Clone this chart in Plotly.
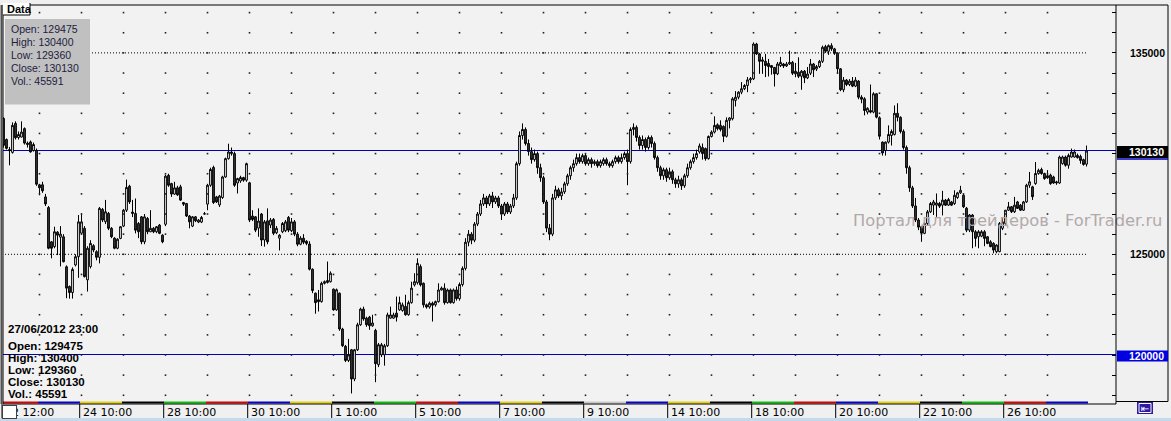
import plotly.graph_objects as go

# ---------------- data (hourly candles, 22 May 2012 12:00 .. 27 Jun 2012 23:00) ----------------
open_ = [
    131750,130700,130200,130060,131500,130800,130820,131240,130520,130580,130150,130160,
    128450,128450,127850,127320,125620,125380,126100,125850,125870,124380,123400,123100,124470,124880,
    126050,126290,123730,124390,125430,125130,124850,127230,126620,127030,126290,125800,125300,125790,
    126400,127190,128380,127100,127030,126530,126860,125620,126780,126120,126290,126120,126450,125950,
    126490,128920,128510,127990,128300,128350,127570,127520,126900,126400,126860,126600,126600,127000,
    127490,128430,129310,127850,127450,127820,128840,129750,130000,130000,128540,128640,128810,128680,
    128550,126900,126860,126300,127000,125710,126660,126450,126730,126070,125800,126120,126170,126830,
    126170,126610,126000,125500,125800,125650,125510,124260,123070,122740,122650,123560,123600,123640,
    123270,122240,123070,121290,120430,119730,120260,118810,120260,121500,122280,121830,121880,121450,
    121220,119520,120010,120010,120460,121830,121830,122080,122240,122210,122410,122000,122600,123480,
    123590,124390,123560,122490,122380,122570,122490,122650,123230,123320,122600,123230,122600,123230,
    122800,123500,124300,125600,126000,125700,126500,127000,127500,127800,127500,127900,127600,127800,
    127400,127000,127500,127100,127400,127800,129500,130900,131200,130500,130100,129700,130000,129300,
    128800,127600,126300,126000,127800,128200,127900,128100,128500,128900,129300,129500,129800,129600,
    129900,129500,129700,129500,129600,129400,129500,129700,129500,129400,129600,129800,129600,129800,
    130000,129600,131200,131300,130800,130400,130700,130300,130800,130500,129800,129300,128900,129200,
    128800,129100,128700,128500,128700,128400,128900,129300,129600,129800,130080,130300,130250,129750,
    130850,131070,131430,131400,131350,130860,131650,131730,132640,132800,133050,133220,133380,133660,
    133710,135440,134950,134580,134580,134480,134370,134280,133960,134370,134450,134350,134450,134530,
    134090,134040,133840,134090,133760,133990,134450,134200,134320,134580,135310,135080,135360,135200,
    134980,134210,133170,133650,133430,133600,133350,133600,132800,132720,132060,132140,132060,132970,
    131780,130570,130150,130570,130900,130950,132000,131800,131100,130300,129300,128300,127400,126700,
    126370,126040,126530,127110,127440,127440,127520,127440,127690,127440,127600,127520,127820,128050,
    127930,127290,126200,126950,126120,125870,125900,126120,125870,125620,125540,125130,125130,126290,
    126530,127190,127360,127110,127600,127440,127190,127600,128430,128350,128510,129010,129210,129010,
    128900,128930,128840,128540,128540,129500,129830,129420,129830,129830,129910,129860,129700,129475,
]
high_ = [
    131800,130750,130330,131550,131600,131100,131600,131300,130600,130650,130550,130250,
    128500,128600,128000,127400,125650,126370,126150,126400,126000,124450,123450,124350,125000,126950,
    127030,126400,125400,125700,125500,125200,127350,127300,127700,127100,126350,125850,125800,126400,
    127250,128710,128450,127700,127770,126600,126900,127000,126850,127190,126350,126400,126500,126000,
    128950,129000,128550,128600,128400,128450,127600,127550,126950,126900,126900,126750,126900,127100,
    128500,129300,129400,127900,127950,128900,129800,130490,130300,130100,128800,128900,128850,129550,
    128600,127190,126900,127280,127050,126700,127280,126800,126800,126400,126000,126600,126700,126900,
    126800,126700,126100,125900,126000,125700,125650,124300,123100,123230,123640,123700,124640,124150,
    123300,123300,123100,121350,120500,120800,120300,120300,121600,122350,122400,121900,121940,122000,
    121300,120600,120600,120550,122100,122400,122100,122900,122900,122600,122990,122700,123640,124060,
    124800,124500,123600,122550,122650,122650,122700,123560,123400,123560,123300,123300,123300,123400,
    123600,124400,125800,126200,126100,126600,127100,127700,128000,127900,128000,128100,127900,127900,
    127500,127600,127600,127500,128000,129600,131100,131500,131300,130700,130300,130200,130100,129500,
    128900,127700,126500,128000,128400,128300,128300,128600,129000,129400,129700,130000,130000,130000,
    130000,129800,129800,129700,129700,129700,129800,129800,129600,129700,129900,129900,130000,130100,
    130200,131300,131500,131400,130900,130900,130800,130900,130900,130600,129900,129400,129300,129300,
    129300,129200,128800,128900,128800,129000,129500,129700,130000,130200,130500,130500,130300,130900,
    131150,131850,131500,131650,131400,131800,131800,132800,133100,133100,133550,133450,133800,133800,
    135520,135500,135000,134800,134950,134700,134400,134300,134550,134800,134500,134550,135110,134600,
    134500,134780,134150,134150,134300,134700,134500,134400,134650,135360,135400,135420,135480,135250,
    135000,134250,133800,133700,133700,133800,133800,133650,132900,132800,132300,133430,133050,133000,
    131850,130600,130600,131400,131200,132390,132500,131850,131200,130400,129400,128400,127800,126800,
    126400,126600,127200,127600,127700,128020,127600,128150,127750,127800,127650,128180,128100,128400,
    128000,127350,127000,127000,126200,126200,126200,126200,125900,125700,125600,125500,126600,126800,
    127200,127600,127400,127850,127650,127500,127650,128500,129090,128400,129580,129250,129300,129050,
    129180,129000,128900,128650,129900,129900,129900,130000,130250,130200,130000,129950,129750,130400,
]
low_ = [
    130300,130200,129420,130000,130700,130700,130800,130450,130300,130050,130100,128400,
    127930,128050,127400,125250,124800,125300,124960,124400,124600,122820,122800,122800,124400,123830,
    126000,123850,123150,124300,125100,124700,124550,126600,126500,126200,125800,125250,125250,125750,
    126350,127100,127500,126850,126040,125800,125500,125500,126000,126100,126050,126050,126000,125550,
    126400,128350,127850,127950,127900,127650,127400,126850,126290,126350,126600,126550,126550,126980,
    127190,128350,127500,127550,127350,127750,128800,129700,129900,128350,128020,128550,128600,128600,
    126600,126650,126100,125870,125410,125380,125500,126300,125950,126000,125190,126050,126100,126100,
    126100,125900,125400,125450,125500,125450,124200,123070,122050,122160,122600,123500,123550,123600,
    122200,122200,121200,120400,119650,119650,118090,118700,120200,121450,121700,121400,121250,121400,
    118650,119400,119900,119470,120400,121800,121800,121660,122200,122150,121950,121950,122550,123400,
    123500,123400,122350,122300,122300,121660,122400,122600,123200,122500,122550,122550,122550,122700,
    122700,123400,124200,125400,125500,125600,126400,126900,127400,127300,127400,127300,127500,127300,
    126700,126900,127000,127000,127300,127700,129400,130700,130400,129900,129500,129600,129000,128600,
    127500,126100,125700,125900,127700,127800,127700,128000,128400,128700,129100,129400,129500,129500,
    129400,129400,129300,129400,129300,129300,129400,129400,129300,129300,129500,129500,129500,129700,
    128430,129500,130900,130600,130200,130200,130100,130200,130300,129700,129100,128700,128700,128600,
    128700,128500,128300,128300,128200,128300,128800,129200,129500,129700,130000,129700,129650,129700,
    130800,131000,131150,131100,130570,130800,131250,131650,132340,132700,132950,133150,133050,133500,
    133650,134900,133960,133960,133800,133830,133920,133330,133900,134300,134250,134300,134400,133900,
    133790,133750,133170,133500,133700,133900,133800,134100,134250,134500,135000,134900,135100,134900,
    133960,133100,133050,133350,133350,133300,133300,132700,132500,131900,131950,132000,132000,131750,
    130700,129900,129900,130500,130400,130900,131600,131000,130200,129000,128100,127300,126600,126200,
    125620,126000,126450,127050,126950,126860,127300,126930,127400,127400,127400,127450,127750,128000,
    127300,126100,126100,125300,125380,125300,125850,125400,125500,125350,125050,125050,125100,126200,
    126450,127150,127050,127050,127250,127150,127150,127550,128300,127700,128450,128950,128950,128700,
    128750,128450,128500,128450,128500,129450,129350,129250,129800,129800,129750,129500,129400,129360,
]
close_ = [
    130410,130260,130150,131400,130790,130950,131070,130520,130450,130080,130450,128480,
    128300,128150,127500,125300,125300,126120,125950,126000,124630,123320,123100,124250,124880,126610,
    126610,123890,125300,125540,125210,124850,127280,126700,127110,126290,125870,125300,125750,126370,
    127190,128320,127600,127030,126200,126120,125620,126860,126120,126290,126120,126370,126040,125620,
    128880,128430,127990,128300,127950,127690,127490,126900,126610,126860,126660,126700,126830,127010,
    128430,129210,127570,127600,127890,128840,129750,130080,130080,128430,128760,128810,128680,129500,
    126700,126730,126200,126650,125710,126610,125620,126700,126040,126290,125950,126530,126610,126200,
    126610,126000,125500,125800,125600,125540,124260,123200,122600,122650,123560,123640,123700,124060,
    122240,123240,121290,120460,119730,120010,118810,120260,121500,122280,121790,121500,121450,121590,
    119570,120510,120510,120460,121990,121990,121990,121880,122600,122490,122000,122600,123320,123640,
    124550,123480,122490,122380,122570,122470,122650,123230,123320,122600,123230,122600,123230,122800,
    123500,124300,125600,126000,125700,126500,127000,127500,127800,127500,127900,127600,127800,127400,
    127000,127500,127100,127400,127800,129500,130900,131200,130500,130100,129700,130000,129300,128800,
    127600,126300,126000,127800,128200,127900,128100,128500,128900,129300,129500,129800,129600,129900,
    129500,129700,129500,129600,129400,129600,129700,129500,129400,129600,129800,129600,129800,130000,
    129600,131200,131300,130800,130400,130700,130300,130800,130500,129800,129300,128900,129200,128800,
    129100,128700,128500,128700,128400,128900,129300,129600,129800,130000,130380,130000,129750,130850,
    131070,131400,131240,131200,130860,131650,131770,132720,132800,133050,133220,133380,133660,133720,
    135440,134950,134580,134650,134370,134320,134270,133960,134450,134530,134350,134450,134530,133990,
    133960,133840,134090,133760,133950,134450,134160,134320,134580,135280,135080,135360,135200,134980,
    134210,133170,133650,133430,133600,133350,133650,132800,132700,132140,132250,132060,132970,131810,
    130860,130030,130570,130950,131100,132000,131800,131100,130300,129300,128300,127400,126700,126350,
    126050,126530,127110,127520,127600,127550,127390,127690,127440,127720,127440,127930,128050,128180,
    127360,126200,126950,126120,125790,126120,126120,125790,125540,125380,125210,125460,126530,126610,
    127190,127360,127110,127440,127280,127190,127600,128430,128600,127860,129010,129170,129010,128760,
    128800,128510,128540,128590,129830,129830,129420,129910,130080,130080,129800,129660,129460,130130,
]

trading_days = ["22", "23", "24", "25", "28", "29", "30", "31", "1", "4", "5", "6", "7",
                "8", "9", "13", "14", "15", "18", "19", "20", "21", "22", "25", "26", "27"]
weekdays = ["Tue", "Wed", "Thu", "Fri", "Mon", "Tue", "Wed", "Thu", "Fri", "Mon", "Tue", "Wed", "Thu",
            "Fri", "Sat", "Wed", "Thu", "Fri", "Mon", "Tue", "Wed", "Thu", "Fri", "Mon", "Tue", "Wed"]
first_day_bars = 12      # 22 May: 12:00 .. 23:00
bars_per_day = 14        # 10:00 .. 23:00
tick_day_idx = [2, 4, 6, 8, 10, 12, 14, 16, 18, 20, 22, 24]
first_tick_text = "22 12:00"
price_ticks = list(range(118000, 137001, 1000))
labelled_prices = [125000, 135000]
dotted_prices = [125000, 135000]
last_price = 130130
level_price = 120000
info_date = "27/06/2012 23:00"
info_lines = ["Open: 129475", "High: 130400", "Low: 129360", "Close: 130130", "Vol.: 45591"]
watermark = "Портал для трейдеров - ForTrader.ru"

N = len(close_)
assert len(open_) == len(high_) == len(low_) == N == first_day_bars + bars_per_day * (len(trading_days) - 1)

# ---------------- geometry ----------------
W, H = 1171, 421
PL, PR, PT, PB = 3, 1116, 5, 404
BAR_PX, X0_PX = 3.0, 3.5


def px_x(px):
    return (px - PL) / (PR - PL)


def px_y(py):
    return (PB - py) / (PB - PT)


def idx_from_px(px):
    return (px - X0_PX) / BAR_PX


x_range = [idx_from_px(PL), idx_from_px(PR)]
y_range = [117567, 137378]


def crisp_offset(price):
    """pixel offset (positive = up) that puts a 1px line on a pixel centre"""
    py = PT + (y_range[1] - price) / (y_range[1] - y_range[0]) * (PB - PT)
    target = int(py) + 0.5
    return py - target


day_start = [first_day_bars - bars_per_day] + [first_day_bars + bars_per_day * k for k in range(len(trading_days) - 1)]
wd_color = {"Mon": "#00c800", "Tue": "#e00000", "Wed": "#0000e0", "Thu": "#e6d200",
            "Fri": "#000000", "Sat": "#c8c8c8"}

xs = list(range(N))
fig = go.Figure()

# grid dots
gx, gy = [], []
for d in day_start[1:]:
    for p in price_ticks:
        gx.append(d)
        gy.append(p)
fig.add_trace(go.Scatter(x=gx, y=gy, mode="markers", hoverinfo="skip",
                         marker=dict(symbol="square", size=1.6, color="#202020", line=dict(width=0))))

# watermark (below candles)
fig.add_trace(go.Scatter(x=[idx_from_px(853)], y=[126600], mode="text", text=[watermark],
                         textposition="middle right", cliponaxis=False, hoverinfo="skip",
                         textfont=dict(family="DejaVu Sans", size=16.3, color="#b3a9a9")))

fig.add_trace(go.Candlestick(
    x=xs, open=open_, high=high_, low=low_, close=close_, hoverinfo="skip", whiskerwidth=0,
    increasing=dict(line=dict(color="#000000", width=1), fillcolor="#ffffff"),
    decreasing=dict(line=dict(color="#000000", width=1), fillcolor="#3c3c3c"),
))

shapes = []
ann = []

# horizontal levels (snapped to a pixel row so they stay crisp)
for p in [last_price, level_price]:
    off = crisp_offset(p)
    shapes.append(dict(type="line", xref="paper", yref="y", ysizemode="pixel", yanchor=p,
                       x0=0, x1=1, y0=off, y1=off,
                       line=dict(color="#0000b4", width=1), layer="below"))
for p in dotted_prices:
    shapes.append(dict(type="line", xref="x", yref="y", x0=-0.5, x1=N - 0.5, y0=p, y1=p,
                       line=dict(color="#000000", width=1, dash="1px,2px"), layer="below"))

# day colour strip under the plot
for k, d in enumerate(day_start):
    shapes.append(dict(type="rect", xref="x", yref="paper", x0=d - 0.5, x1=d + bars_per_day - 0.5,
                       y0=px_y(403.4), y1=px_y(401.6), fillcolor=wd_color[weekdays[k]],
                       line=dict(width=0), layer="above"))

# frame
shapes.append(dict(type="rect", xref="paper", yref="paper", x0=0, x1=1, y0=0, y1=1,
                   line=dict(color="#000000", width=1), layer="above"))
shapes.append(dict(type="line", xref="paper", yref="paper", x0=px_x(1.5), x1=px_x(1.5), y0=0, y1=1,
                   line=dict(color="#505050", width=2), layer="above"))
# right price panel
shapes.append(dict(type="line", xref="paper", yref="paper", x0=1, x1=px_x(1168), y0=1, y1=1,
                   line=dict(color="#000000", width=1), layer="above"))
shapes.append(dict(type="line", xref="paper", yref="paper", x0=px_x(1168), x1=px_x(1168),
                   y0=px_y(401.5), y1=1, line=dict(color="#000000", width=1), layer="above"))
shapes.append(dict(type="line", xref="paper", yref="paper", x0=1, x1=px_x(1168),
                   y0=px_y(401.5), y1=px_y(401.5), line=dict(color="#000000", width=1), layer="above"))

# x tick marks and labels (first one is partly outside the x range -> paper coords)
first_tick_px = X0_PX + BAR_PX * (day_start[0] + 2) - 1.5
shapes.append(dict(type="line", xref="paper", yref="paper", x0=px_x(first_tick_px), x1=px_x(first_tick_px),
                   y0=px_y(404), y1=px_y(419.5), line=dict(color="#000000", width=1)))
ann.append(dict(x=px_x(first_tick_px), y=px_y(412.5), xref="paper", yref="paper", text=first_tick_text,
                showarrow=False, xanchor="left", yanchor="middle", xshift=1,
                font=dict(family="DejaVu Sans", size=11, color="#000000")))
for k in tick_day_idx:
    xp = day_start[k] - 0.6
    shapes.append(dict(type="line", xref="x", yref="paper", x0=xp, x1=xp,
                       y0=px_y(404), y1=px_y(419.5), line=dict(color="#000000", width=1)))
    ann.append(dict(x=xp, y=px_y(412.5), xref="x", yref="paper", text=f"{trading_days[k]} 10:00",
                    showarrow=False, xanchor="left", yanchor="middle", xshift=1,
                    font=dict(family="DejaVu Sans", size=11, color="#000000")))
# small white box over the first label
ann.append(dict(x=px_x(1.5), y=px_y(404.5), xref="paper", yref="paper", text=" ", showarrow=False,
                xanchor="left", yanchor="top", width=13, height=12, bgcolor="#ffffff",
                bordercolor="#404040", borderwidth=1, borderpad=0))

# price boxes on the right
for p, bg, y0, y1 in [(last_price, "#000000", -7, 5), (level_price, "#0000e0", -6.5, 4.5)]:
    shapes.append(dict(type="rect", xref="paper", yref="y", ysizemode="pixel", yanchor=p,
                       x0=px_x(1117), x1=px_x(1168), y0=y0, y1=y1, fillcolor=bg,
                       line=dict(width=0), layer="above"))
    ann.append(dict(x=px_x(1166), y=p, xref="paper", yref="y", yshift=-1, text=f"<b>{p}</b>",
                    showarrow=False, xanchor="right", yanchor="middle",
                    font=dict(family="Liberation Sans", size=10.5, color="#ffffff")))
shapes.append(dict(type="line", xref="paper", yref="y", ysizemode="pixel", yanchor=last_price,
                   x0=px_x(1117), x1=px_x(1168), y0=-8, y1=-8,
                   line=dict(color="#0000c0", width=1.5), layer="above"))

# top-left "Data" tab and gray info box
shapes.append(dict(type="rect", xref="paper", yref="paper", x0=px_x(3), x1=px_x(30),
                   y0=px_y(15), y1=px_y(3), fillcolor="#ffffff", line=dict(width=0), layer="above"))
shapes.append(dict(type="line", xref="paper", yref="paper", x0=px_x(30), x1=px_x(30),
                   y0=px_y(15), y1=px_y(3), line=dict(color="#000000", width=1), layer="above"))
shapes.append(dict(type="line", xref="paper", yref="paper", x0=px_x(3), x1=px_x(30),
                   y0=px_y(15), y1=px_y(15), line=dict(color="#000000", width=1), layer="above"))
ann.append(dict(x=px_x(5), y=px_y(9), xref="paper", yref="paper", text="<b>Data</b>", showarrow=False,
                xanchor="left", yanchor="middle",
                font=dict(family="Liberation Sans", size=11, color="#000000")))
shapes.append(dict(type="rect", xref="paper", yref="paper", x0=px_x(5), x1=px_x(90),
                   y0=px_y(104.5), y1=px_y(19), fillcolor="#c0c0c0", line=dict(width=0), layer="above"))
for k, t in enumerate(info_lines):
    ann.append(dict(x=px_x(9), y=px_y(29.3 + 12.9 * k), xref="paper", yref="paper", text=t,
                    showarrow=False, xanchor="left", yanchor="middle",
                    font=dict(family="Liberation Sans", size=10.5, color="#202040")))

# bottom-left bold info block
ann.append(dict(x=px_x(6), y=px_y(329), xref="paper", yref="paper", text=f"<b>{info_date}</b>",
                showarrow=False, xanchor="left", yanchor="middle",
                font=dict(family="Liberation Sans", size=11.5, color="#000000")))
for k, t in enumerate(info_lines):
    ann.append(dict(x=px_x(6), y=px_y(345.7 + 12 * k), xref="paper", yref="paper", text=f"<b>{t}</b>",
                    showarrow=False, xanchor="left", yanchor="middle",
                    font=dict(family="Liberation Sans", size=11.5, color="#000000")))

# bottom-right icon and light-blue bottom band
shapes.append(dict(type="rect", xref="paper", yref="paper", x0=px_x(1137), x1=px_x(1153),
                   y0=px_y(414), y1=px_y(402), fillcolor="#2c1aa0", line=dict(width=0), layer="above"))
shapes.append(dict(type="rect", xref="paper", yref="paper", x0=px_x(1139), x1=px_x(1151),
                   y0=px_y(412.5), y1=px_y(403.5), line=dict(color="#ffffff", width=1), layer="above"))
ann.append(dict(x=px_x(1145), y=px_y(408), xref="paper", yref="paper", text="⇤", showarrow=False,
                xanchor="center", yanchor="middle",
                font=dict(family="DejaVu Sans", size=10, color="#ffffff")))
shapes.append(dict(type="rect", xref="paper", yref="paper", x0=px_x(0), x1=px_x(W),
                   y0=px_y(H + 1), y1=px_y(418), fillcolor="#c4d8ee", line=dict(width=0), layer="above"))

fig.update_layout(
    width=W, height=H,
    margin=dict(l=PL, r=W - PR, t=PT, b=H - PB),
    paper_bgcolor="#f0f0f0", plot_bgcolor="#f2f2f2",
    showlegend=False, hovermode=False, boxgap=0.15,
    shapes=shapes, annotations=ann,
    xaxis=dict(range=x_range, visible=False, rangeslider=dict(visible=False), fixedrange=True),
    yaxis=dict(range=y_range, side="right", showgrid=False, zeroline=False, showline=False,
               tickvals=price_ticks,
               ticktext=[f"<b>{p}</b>" if p in labelled_prices else "" for p in price_ticks],
               ticks="inside", ticklen=4, tickwidth=1, tickcolor="#000000",
               ticklabelstandoff=13,
               tickfont=dict(family="Liberation Sans", size=10.5, color="#000000"),
               fixedrange=True),
)

fig.write_html("out.html", config={"displayModeBar": False, "staticPlot": True},
               post_script="document.body.style.margin='0';")
